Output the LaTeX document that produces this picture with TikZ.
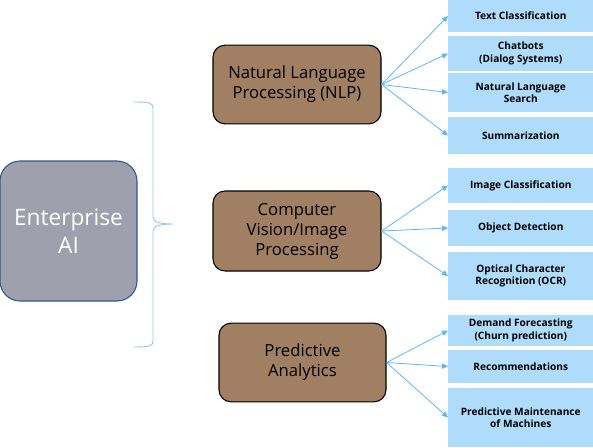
\documentclass[tikz,border=0pt]{standalone}
\usepackage{fontspec}
\setmainfont{Open Sans}
\usetikzlibrary{arrows.meta,positioning}
\definecolor{EAgray}{RGB}{158,160,174}
\definecolor{EAnavy}{RGB}{45,90,140}
\definecolor{EAbrown}{RGB}{160,127,98}
\definecolor{EAsky}{RGB}{174,220,250}
\definecolor{EAline}{RGB}{95,182,242}
\definecolor{EAbrace}{RGB}{150,200,238}
\tikzset{
  root/.style={rounded corners=15pt,draw=EAnavy,line width=0.8pt,fill=EAgray,
               text=white,align=center,font=\fontsize{17}{21}\selectfont,
               minimum width=102.75pt,minimum height=105pt,inner sep=0pt},
  area/.style={rounded corners=9pt,draw=black,line width=0.8pt,fill=EAbrown,
               text=black,align=center,font=\fontsize{12.5}{15}\selectfont,
               minimum width=126pt,minimum height=59pt,inner sep=0pt},
  task/.style={fill=EAsky,text=black,align=center,inner sep=0pt,
               font=\fontsize{7.6}{9.4}\selectfont\bfseries,
               minimum width=108.75pt,anchor=west},
  fl/.style={-{Triangle[length=4.5pt,width=4pt]},line width=0.6pt,draw=EAline},
  curly/.style={line width=0.7pt,draw=EAbrace}
}
\begin{document}
\begin{tikzpicture}[x=0.75pt,y=-0.75pt]
  \useasboundingbox (0,0) rectangle (593,447);
  % left side
  \node[root] (ent) at (68.5,231) {Enterprise\\AI};
  \coordinate (btop) at (133,102);
  \coordinate (btip) at (173,224);
  \coordinate (bbot) at (133,347);
  \draw[curly] (btop) .. controls (150,102) and (153,103) .. (153,108) -- (153,217)
    .. controls (153,222) and (160,224) .. (btip)
    .. controls (160,224) and (153,226) .. (153,231) -- (153,341)
    .. controls (153,346) and (150,347) .. (bbot);
  % areas
  \node[area] (nlp) at (297,84.5) {Natural Language\\Processing (NLP)};
  \node[area,minimum height=60pt] (cv) at (297,231) {Computer\\Vision/Image\\Processing};
  \node[area,minimum width=125.25pt] (pa) at (302.5,362.5) {Predictive\\Analytics};
  % tasks
  \node[task,minimum height=24pt] (tc) at (448,16) {Text Classification};
  \node[task,minimum height=26pt] (chat) at (448,53.5) {Chatbots\\(Dialog Systems)};
  \node[task,minimum height=29pt] (nls) at (448,92.5) {Natural Language\\Search};
  \node[task,minimum height=28pt] (summ) at (448,135.5) {Summarization};
  \node[task,minimum height=26pt] (ic) at (448,185.5) {Image Classification};
  \node[task,minimum height=27pt] (od) at (448,228) {Object Detection};
  \node[task,minimum height=36pt] (ocr) at (448,276) {Optical Character\\Recognition (OCR)};
  \node[task,minimum height=23pt] (df) at (448,330.5) {Demand Forecasting\\(Churn prediction)};
  \node[task,minimum height=25pt] (rec) at (448,366.5) {Recommendations};
  \node[task,minimum height=44pt] (pm) at (448,417.5) {Predictive Maintenance\\of Machines};
  % connectors
  \foreach \t in {tc,chat,nls,summ} \draw[fl] (nlp.east) -- (\t.west);
  \foreach \t in {ic,od,ocr} \draw[fl] (cv.east) -- (\t.west);
  \foreach \t in {df,rec,pm} \draw[fl] (pa.east) -- (\t.west);
\end{tikzpicture}
\end{document}
